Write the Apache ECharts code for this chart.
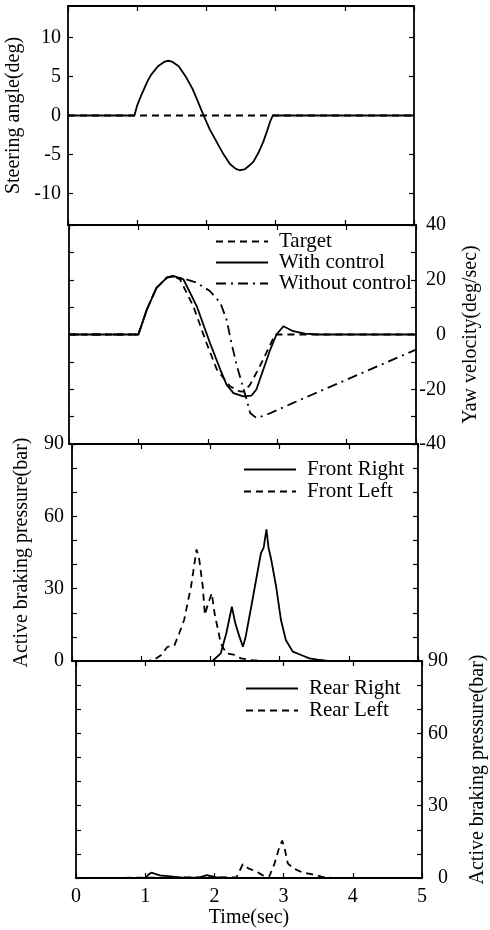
<!DOCTYPE html>
<html>
<head>
<meta charset="utf-8">
<title>Steering, yaw velocity and braking pressure</title>
<script src="https://cdn.jsdelivr.net/npm/echarts@6/dist/echarts.min.js"></script>
<style>html,body{margin:0;padding:0;background:#fff;}</style>
</head>
<body>
<div id="main" style="width:490px;height:930px;"></div>
<script type="text/javascript">
// steering angle (deg)
var steerTime  = [0, 0.96, 1.0, 1.05, 1.1, 1.15, 1.2, 1.3, 1.4, 1.45, 1.5, 1.6, 1.7, 1.8, 1.9, 1.96, 2.05, 2.15, 2.25, 2.34, 2.42, 2.48, 2.55, 2.62, 2.68, 2.75, 2.82, 2.88, 2.92, 2.96, 5];
var steerAngle = [0, 0, 1.3, 2.4, 3.4, 4.4, 5.2, 6.3, 6.9, 7.0, 6.9, 6.3, 5.0, 3.4, 1.3, 0, -1.8, -3.4, -5.0, -6.2, -6.8, -7.0, -6.9, -6.4, -5.9, -4.8, -3.4, -1.9, -0.8, 0, 0];
var steerRefTime  = [0, 5];
var steerRefAngle = [0, 0];

// yaw velocity (deg/sec)
var targetTime = [0, 1.0, 1.12, 1.26, 1.41, 1.5, 1.6, 1.79, 1.98, 2.13, 2.32, 2.46, 2.52, 2.61, 2.75, 2.9, 2.97, 5];
var targetYaw  = [0, 0, 9, 17, 20.8, 21.4, 20.1, 10.4, -3, -12.8, -18.9, -20.8, -20.9, -18.3, -11.6, -3.7, 0, 0];
var withTime = [0, 1.0, 1.12, 1.26, 1.41, 1.5, 1.65, 1.84, 2.03, 2.18, 2.27, 2.37, 2.51, 2.63, 2.70, 2.80, 2.90, 2.99, 3.09, 3.23, 3.4, 3.6, 5];
var withYaw  = [0, 0, 9, 17, 20.8, 21.4, 20.1, 10.4, -3, -12.8, -18.3, -21.4, -22.6, -22.3, -20.1, -12.8, -5.5, 0, 3.0, 1.2, 0.3, 0, 0];
var withoutTime = [0, 1.0, 1.12, 1.26, 1.41, 1.5, 1.65, 1.84, 2.03, 2.18, 2.27, 2.34, 2.42, 2.49, 2.56, 2.61, 2.70, 2.85, 3.23, 3.5, 4.0, 4.5, 5];
var withoutYaw  = [0, 0, 9, 17, 20.8, 21.2, 20.5, 18.9, 15.9, 11.6, 5.5, -3.0, -11.6, -17.7, -23.8, -28.7, -30.5, -29.3, -25.0, -22.0, -16.5, -11.0, -5.5];

// front braking pressure (bar)
var frTime     = [0, 2.03, 2.15, 2.23, 2.27, 2.31, 2.36, 2.42, 2.47, 2.51, 2.59, 2.66, 2.73, 2.77, 2.81, 2.84, 2.88, 2.95, 3.02, 3.09, 3.19, 3.31, 3.43, 3.55, 3.7, 5];
var frPressure = [0, 0, 3.2, 11.5, 17, 22.5, 15.6, 10.1, 5.9, 10.1, 22.5, 33.6, 44.7, 47, 54.6, 47, 41.9, 30.8, 17, 8.7, 3.9, 2.5, 1.1, 0.6, 0, 0];
var flTime     = [0, 1.1, 1.2, 1.29, 1.38, 1.48, 1.55, 1.62, 1.72, 1.80, 1.84, 1.89, 1.92, 1.96, 2.02, 2.06, 2.11, 2.15, 2.23, 2.35, 2.44, 2.6, 2.75, 5];
var flPressure = [0, 0, 0.8, 2.5, 5.9, 6.5, 11.5, 17, 30.8, 46.3, 41.9, 30.8, 19.1, 23.2, 28.1, 19.8, 12.9, 7.3, 3.2, 2.5, 1.1, 0.4, 0, 0];

// rear braking pressure (bar)
var rrTime     = [0, 1.0, 1.05, 1.09, 1.21, 1.4, 1.54, 1.79, 1.89, 2.02, 2.2, 5];
var rrPressure = [0, 0, 1.5, 2.2, 1.1, 0.6, 0.1, 0.3, 1.2, 0.4, 0, 0];
var rlTime     = [0, 2.32, 2.41, 2.49, 2.61, 2.70, 2.79, 2.87, 2.94, 2.98, 3.02, 3.06, 3.14, 3.28, 3.42, 3.57, 3.7, 5];
var rlPressure = [0, 0.3, 5.7, 4.0, 2.6, 1.1, 0.4, 6.1, 13, 15.5, 11.6, 6.1, 4.0, 2.2, 1.5, 0.4, 0, 0];

var FONT = 'Liberation Serif';
var DASH = [7, 5];
var DASHDOT = [10, 5, 2, 5];

function pairs(xs, ys) {
    return xs.map(function (x, i) { return [x, ys[i]]; });
}

function txt(size) {
    return { fontSize: size, fontFamily: FONT, color: '#000' };
}

function xAx(g, pos, showLabel, name) {
    return {
        type: 'value', gridIndex: g, position: pos, min: 0, max: 5, interval: 1,
        axisLine: { onZero: false, lineStyle: { color: '#000', width: 1.8 } },
        axisTick: { inside: true, length: 5, lineStyle: { color: '#000', width: 1.2 } },
        axisLabel: Object.assign({ show: showLabel, margin: 9 }, txt(20)),
        splitLine: { show: false },
        name: name || '', nameLocation: 'middle', nameGap: 30, nameTextStyle: txt(20)
    };
}

function yAx(g, pos, extra) {
    var a = {
        type: 'value', gridIndex: g, position: pos,
        axisLine: { onZero: false, lineStyle: { color: '#000', width: 1.8 } },
        axisTick: { inside: true, length: 5, lineStyle: { color: '#000', width: 1.2 } },
        axisLabel: Object.assign({ show: false }, txt(20)),
        splitLine: { show: false },
        nameLocation: 'middle', nameTextStyle: txt(20)
    };
    return Object.assign(a, extra);
}

function everyN(n) {
    return function (v) { return v % n === 0 ? String(v) : ''; };
}

function line(name, data, xi, yi, dash) {
    return {
        name: name, type: 'line', xAxisIndex: xi, yAxisIndex: yi,
        data: data, symbol: 'none', silent: true, animation: false,
        color: '#000',
        lineStyle: { color: '#000', width: 1.8, type: dash || 'solid' }
    };
}

function legendAt(names, left, top, gap) {
    return {
        data: names,
        orient: 'vertical', left: left, top: top, padding: 0,
        itemWidth: 52, itemHeight: 14, itemGap: gap,
        // hide the marker circle, keep only the line sample
        itemStyle: { color: 'transparent', borderColor: 'transparent', borderWidth: 0 },
        textStyle: Object.assign({ lineHeight: 21, padding: [0, 0, 0, 6] }, txt(21))
    };
}

var myChart = echarts.init(document.getElementById('main'), null, { renderer: 'canvas' });

var option = {
    backgroundColor: '#fff',
    animation: false,
    grid: [
        { left: 68, top: 6, width: 346, height: 219, show: false, containLabel: false, outerBoundsMode: 'none' },
        { left: 69, top: 225, width: 347, height: 219, show: false, containLabel: false, outerBoundsMode: 'none' },
        { left: 72, top: 444, width: 346, height: 217, show: false, containLabel: false, outerBoundsMode: 'none' },
        { left: 76, top: 661, width: 346, height: 217, show: false, containLabel: false, outerBoundsMode: 'none' }
    ],
    xAxis: [
        xAx(0, 'bottom', false), xAx(0, 'top', false),
        xAx(1, 'bottom', false), xAx(1, 'top', false),
        xAx(2, 'bottom', false), xAx(2, 'top', false),
        xAx(3, 'bottom', true, 'Time(sec)'), xAx(3, 'top', false)
    ],
    yAxis: [
        yAx(0, 'left', {
            min: -14, max: 14, splitNumber: 6,
            axisLabel: Object.assign({ show: true, margin: 7, showMinLabel: false, showMaxLabel: false }, txt(20)),
            name: 'Steering angle(deg)', nameGap: 38
        }),
        yAx(0, 'right', { min: -14, max: 14, splitNumber: 6 }),

        yAx(1, 'left', { min: -40, max: 40, interval: 10 }),
        yAx(1, 'right', {
            min: -40, max: 40, interval: 10,
            axisLabel: Object.assign({ show: true, margin: 30, align: 'right', formatter: everyN(20) }, txt(20)),
            name: 'Yaw velocity(deg/sec)', nameGap: 45
        }),

        yAx(2, 'left', {
            min: 0, max: 90, interval: 10,
            axisLabel: Object.assign({ show: true, margin: 8, formatter: everyN(30) }, txt(20)),
            name: 'Active braking pressure(bar)', nameGap: 40
        }),
        yAx(2, 'right', { min: 0, max: 90, interval: 10 }),

        yAx(3, 'left', { min: 0, max: 90, interval: 10 }),
        yAx(3, 'right', {
            min: 0, max: 90, interval: 10,
            axisLabel: Object.assign({ show: true, margin: 26, align: 'right', formatter: everyN(30) }, txt(20)),
            name: 'Active braking pressure(bar)', nameGap: 46
        })
    ],
    legend: [
        legendAt(['Target', 'With control', 'Without control'], 215, 231, 0),
        legendAt(['Front Right', 'Front Left'], 243, 459, 1),
        legendAt(['Rear Right', 'Rear Left'], 245, 678, 1)
    ],
    series: [
        line('steer ref', pairs(steerRefTime, steerRefAngle), 0, 0, DASH),
        line('steer', pairs(steerTime, steerAngle), 0, 0),

        line('Without control', pairs(withoutTime, withoutYaw), 2, 3, DASHDOT),
        line('Target', pairs(targetTime, targetYaw), 2, 3, DASH),
        line('With control', pairs(withTime, withYaw), 2, 3),

        line('Front Left', pairs(flTime, flPressure), 4, 4, DASH),
        line('Front Right', pairs(frTime, frPressure), 4, 4),

        line('Rear Left', pairs(rlTime, rlPressure), 6, 7, DASH),
        line('Rear Right', pairs(rrTime, rrPressure), 6, 7)
    ]
};

myChart.setOption(option);
</script>
</body>
</html>
